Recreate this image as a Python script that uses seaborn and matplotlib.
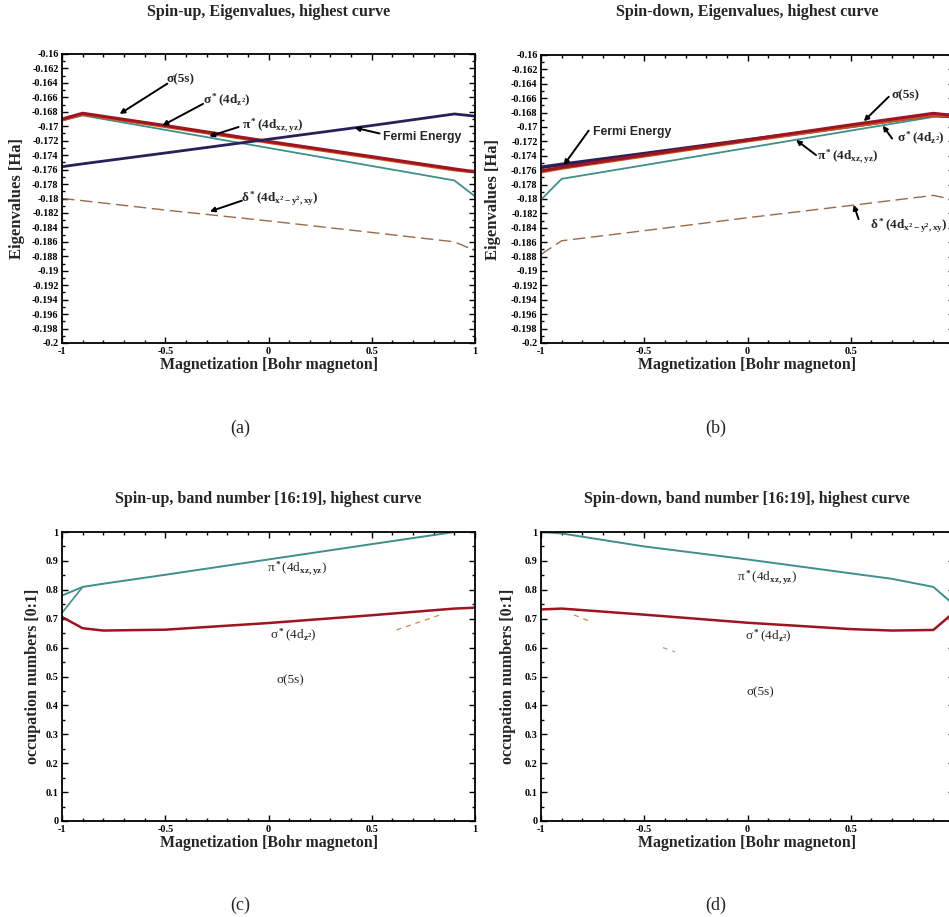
import numpy as np
import pandas as pd
import matplotlib
matplotlib.use("Agg")
import matplotlib.pyplot as plt
from matplotlib.ticker import MultipleLocator, FuncFormatter
import seaborn as sns

# ---------------- data ----------------
# Eigenvalues (Ha) vs magnetization (Bohr magneton)
x_eig = [-1.0, -0.9, -0.5, 0.0, 0.5, 0.9, 1.0]

fermi = [-0.1756, -0.1752, -0.1737, -0.1718, -0.1699, -0.1683, -0.1686]

up_sigma5s = [-0.1690, -0.1682, -0.1699, -0.1721, -0.1742, -0.1759, -0.1763]
up_sigmastar = [-0.1692, -0.1684, -0.1701, -0.1723, -0.1744, -0.1761, -0.1764]
up_pi = [-0.1692, -0.1685, -0.1705, -0.1730, -0.1755, -0.1775, -0.1797]
up_delta = [-0.1800, -0.1803, -0.1816, -0.1831, -0.1847, -0.1860, -0.1872]

dn_sigma5s = [-0.1761, -0.1756, -0.1739, -0.1718, -0.1697, -0.1681, -0.1684]
dn_sigmastar = [-0.1763, -0.1758, -0.1741, -0.1720, -0.1700, -0.1684, -0.1686]
dn_pi = [-0.1801, -0.1772, -0.1753, -0.1729, -0.1705, -0.1686, -0.1686]
dn_delta = [-0.1877, -0.1858, -0.1844, -0.1826, -0.1809, -0.1795, -0.1801]

# Occupation numbers [0:1]
x_occ = [-1.0, -0.9, -0.8, -0.5, 0.0, 0.5, 0.9, 1.0]
up_pi_occ = [0.780, 0.810, 0.821, 0.852, 0.905, 0.958, 1.000, 1.000]
up_pi2_x = [-1.0, -0.9]
up_pi2_occ = [0.720, 0.810]
up_sigmastar_occ = [0.706, 0.667, 0.659, 0.662, 0.685, 0.712, 0.735, 0.738]
up_s5_x = [0.62, 0.83]
up_s5_occ = [0.661, 0.713]

x_occ_dn = [-1.0, -0.9, -0.5, 0.0, 0.5, 0.7, 0.9, 1.0]
dn_pi_occ = [1.000, 0.995, 0.950, 0.905, 0.857, 0.838, 0.810, 0.748]
dn_sigmastar_occ = [0.732, 0.735, 0.714, 0.686, 0.664, 0.659, 0.661, 0.722]
dn_s5_x1 = [-0.84, -0.76]
dn_s5_occ1 = [0.713, 0.690]
dn_s5_x2 = [-0.41, -0.35]
dn_s5_occ2 = [0.600, 0.585]

titles = ["Spin-up, Eigenvalues, highest curve",
          "Spin-down, Eigenvalues, highest curve",
          "Spin-up, band number [16:19], highest curve",
          "Spin-down, band number [16:19], highest curve"]
panel_tags = ["(a)", "(b)", "(c)", "(d)"]
xlab = "Magnetization [Bohr magneton]"
ylab_eig = "Eigenvalues [Ha]"
ylab_occ = "occupation numbers [0:1]"

# ---------------- style ----------------
sns.set_style("ticks")
plt.rcParams["font.family"] = ["Liberation Serif", "DejaVu Serif"]
plt.rcParams["mathtext.fontset"] = "custom"
plt.rcParams["mathtext.rm"] = "Liberation Serif:bold"
plt.rcParams["mathtext.it"] = "Liberation Serif:bold"
plt.rcParams["mathtext.bf"] = "Liberation Serif:bold"
plt.rcParams["mathtext.default"] = "rm"

C_FERMI = "#2a1f58"
C_RED = "#9e1420"
C_ORANGE = "#c8521e"
C_TEAL = "#3f8f8a"
C_DELTA = "#9a6a4a"

W, H = 949, 917
fig = plt.figure(figsize=(W / 100, H / 100), dpi=100)
fig.patch.set_facecolor("white")


def add_ax(left, top, right, bottom):
    return fig.add_axes([left / W, 1 - bottom / H, (right - left) / W, (bottom - top) / H])


ax_a = add_ax(62, 54, 475, 343)
ax_b = add_ax(541, 55, 954, 343)
ax_c = add_ax(62, 532, 475, 821)
ax_d = add_ax(541, 532, 954, 821)

fmt = FuncFormatter(lambda v, p: f"{round(v, 4):g}")
fmt_cut = FuncFormatter(lambda v, p: "" if abs(v - 1) < 1e-9 else f"{round(v, 4):g}")


def style_axes(ax, eig, ylab_x, cut_right=False):
    ax.set_xlim(-1, 1)
    ax.xaxis.set_major_locator(MultipleLocator(0.5))
    ax.xaxis.set_minor_locator(MultipleLocator(0.1))
    if eig:
        ax.set_ylim(-0.2, -0.16)
        ax.yaxis.set_major_locator(MultipleLocator(0.002))
        ax.yaxis.set_minor_locator(MultipleLocator(0.001))
    else:
        ax.set_ylim(0, 1)
        ax.yaxis.set_major_locator(MultipleLocator(0.1))
        ax.yaxis.set_minor_locator(MultipleLocator(0.05))
    ax.xaxis.set_major_formatter(fmt_cut if cut_right else fmt)
    ax.yaxis.set_major_formatter(fmt)
    ax.tick_params(which="both", direction="in", top=True, right=True,
                   labelsize=7.3, width=1.0, colors="black")
    ax.tick_params(axis="x", which="both", pad=3.2)
    ax.tick_params(axis="y", which="both", pad=2.5)
    ax.tick_params(which="major", length=4.5)
    ax.tick_params(which="minor", length=2.5)
    for lbl in ax.get_xticklabels() + ax.get_yticklabels():
        lbl.set_fontweight("bold")
    for s in ax.spines.values():
        s.set_visible(True)
        s.set_linewidth(1.3)
        s.set_color("black")
    ax.set_xlabel(xlab, fontsize=11.4, fontweight="bold", labelpad=0.5)
    ax.set_ylabel(ylab_eig if eig else ylab_occ, fontsize=12 if eig else 11.5,
                  fontweight="bold", va="center")
    ax.yaxis.set_label_coords((ylab_x - 62) / 413, 0.5)
    ax.set_facecolor("white")


def line(ax, x, y, color, lw, ls="-", alpha=1.0):
    sns.lineplot(x=x, y=y, ax=ax, color=color, linewidth=lw, linestyle=ls,
                 alpha=alpha, estimator=None, sort=False)


def arrow(ax, tail, tip):
    ax.annotate("", xy=tip, xytext=tail,
                arrowprops=dict(arrowstyle="-|>", color="black", lw=1.4,
                                mutation_scale=7, shrinkA=0, shrinkB=0))


lab_s5 = "σ(5s)"
lab_sstar = "σ$^*$(4d$_{z^2}$)"
lab_pi = "π$^*$(4d$_{xz,yz}$)"
lab_delta = "δ$^*$(4d$_{x^2-y^2,xy}$)"
ann_kw = dict(fontsize=9.5, fontweight="bold", ha="center", va="center")
fermi_kw = dict(fontsize=8.8, fontweight="bold", ha="center", va="center",
                family=["Liberation Sans", "DejaVu Sans"])

# ---- panel (a) ----
ax = ax_a
line(ax, x_eig, up_delta, C_DELTA, 1.0, ls=(0, (9, 4)))
line(ax, x_eig, up_pi, C_TEAL, 1.3)
line(ax, x_eig, up_sigmastar, C_ORANGE, 1.6)
line(ax, x_eig, up_sigma5s, C_RED, 2.2)
line(ax, x_eig, fermi, C_FERMI, 2.0)
style_axes(ax, True, 17)
ax.text(-0.425, -0.1635, lab_s5, **ann_kw)
ax.text(-0.20, -0.1665, lab_sstar, **ann_kw)
ax.text(0.022, -0.1700, lab_pi, **ann_kw)
ax.text(0.746, -0.1715, "Fermi Energy", **fermi_kw)
ax.text(0.056, -0.1801, lab_delta, **ann_kw)
arrow(ax, (-0.49, -0.1641), (-0.721, -0.1683))
arrow(ax, (-0.317, -0.1669), (-0.514, -0.1699))
arrow(ax, (-0.145, -0.1701), (-0.287, -0.1714))
arrow(ax, (0.538, -0.1710), (0.417, -0.1702))
arrow(ax, (-0.129, -0.1803), (-0.284, -0.1818))

# ---- panel (b) ----
ax = ax_b
line(ax, x_eig, dn_delta, C_DELTA, 1.0, ls=(0, (9, 4)))
line(ax, x_eig, dn_pi, C_TEAL, 1.3)
line(ax, x_eig, fermi, C_FERMI, 2.6)
line(ax, x_eig, dn_sigmastar, C_ORANGE, 1.6)
line(ax, x_eig, dn_sigma5s, C_RED, 2.2)
style_axes(ax, True, 493 - 541 + 62, cut_right=True)
ax.text(-0.556, -0.1707, "Fermi Energy", **fermi_kw)
ax.text(0.763, -0.1656, lab_s5, **ann_kw)
ax.text(0.84, -0.1716, lab_sstar, **ann_kw)
ax.text(0.487, -0.1742, lab_pi, **ann_kw)
ax.text(0.78, -0.1837, lab_delta, **ann_kw)
arrow(ax, (-0.769, -0.1705), (-0.89, -0.1753))
arrow(ax, (0.684, -0.1658), (0.563, -0.1692))
arrow(ax, (0.70, -0.1716), (0.655, -0.1698))
arrow(ax, (0.332, -0.1739), (0.235, -0.1718))
arrow(ax, (0.538, -0.1828), (0.514, -0.1808))

# ---- panel (c) ----
ax = ax_c
line(ax, up_s5_x, up_s5_occ, "#d08a3a", 0.9, ls=(0, (4, 4)))
line(ax, up_pi2_x, up_pi2_occ, C_TEAL, 1.2)
line(ax, x_occ, up_pi_occ, C_TEAL, 1.4)
line(ax, x_occ, up_sigmastar_occ, C_RED, 1.8)
style_axes(ax, False, 33)
occ_kw = dict(fontsize=9.5, ha="center", va="center")
ax.text(0.136, 0.874, lab_pi, **occ_kw)
ax.text(0.12, 0.643, lab_sstar, **occ_kw)
ax.text(0.105, 0.488, lab_s5, **occ_kw)

# ---- panel (d) ----
ax = ax_d
line(ax, dn_s5_x1, dn_s5_occ1, "#d08a3a", 0.9, ls=(0, (4, 4)))
line(ax, dn_s5_x2, dn_s5_occ2, "#b0a090", 0.9, ls=(0, (4, 4)))
line(ax, x_occ_dn, dn_pi_occ, C_TEAL, 1.4)
line(ax, x_occ_dn, dn_sigmastar_occ, C_RED, 1.8)
style_axes(ax, False, 508 - 541 + 62, cut_right=True)
ax.text(0.093, 0.840, lab_pi, **occ_kw)
ax.text(0.10, 0.638, lab_sstar, **occ_kw)
ax.text(0.06, 0.447, lab_s5, **occ_kw)

# titles and panel tags
for axx, t, tag, ty, tagy in [(ax_a, titles[0], panel_tags[0], 12, 428),
                               (ax_b, titles[1], panel_tags[1], 12, 428),
                               (ax_c, titles[2], panel_tags[2], 499, 905),
                               (ax_d, titles[3], panel_tags[3], 499, 905)]:
    left_col = axx in (ax_a, ax_c)
    cx = (268.5 if left_col else 747) / W
    fig.text(cx, 1 - ty / H, t, ha="center", va="center", fontsize=11.5, fontweight="bold")
    tx = (240 if left_col else 716) / W
    fig.text(tx, 1 - tagy / H, tag, ha="center", va="center", fontsize=13)

fig.savefig("out.png", dpi=100, facecolor="white")
